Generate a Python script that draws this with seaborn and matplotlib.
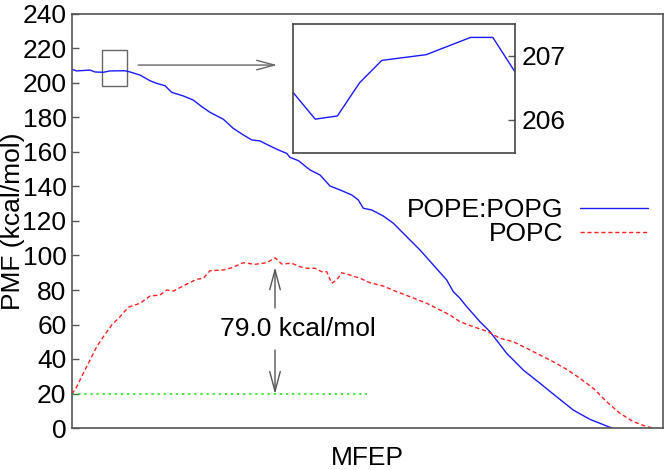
import numpy as np
import pandas as pd
import seaborn as sns
import matplotlib
matplotlib.use("Agg")
import matplotlib.pyplot as plt

# PMF along the MFEP (arbitrary path units 0-100)
mfep_pg = [0.0, 0.8, 3.05, 3.89, 5.3, 6.43, 8.97, 9.81, 11.51, 13.2, 14.33, 15.74, 16.87,
           18.83, 20.52, 21.95, 23.35, 25.6, 27.29, 28.98, 30.41, 31.81, 33.5, 34.91, 36.33,
           36.89, 38.29, 40.27, 41.96, 43.65, 45.35, 47.33, 48.44, 49.29, 50.71, 52.67, 54.37,
           56.63, 58.88, 61.14, 63.4, 64.52, 65.65, 66.79, 69.04, 70.73, 73.55, 76.36, 79.19,
           82.01, 84.82, 87.65, 91.03, 91.5]
pmf_pg = [207.9, 207.0, 207.5, 206.4, 206.2, 207.0, 207.1, 206.4, 204.6, 201.3, 199.8, 198.4,
          194.6, 192.5, 190.1, 186.3, 183.0, 179.0, 173.7, 169.9, 167.0, 166.4, 163.5, 161.2,
          159.2, 156.9, 155.0, 149.6, 146.7, 140.3, 138.0, 135.1, 132.2, 127.4, 126.4, 122.9,
          118.7, 110.9, 103.2, 94.5, 85.8, 79.0, 75.2, 70.3, 61.6, 55.8, 43.3, 33.6, 25.9,
          18.1, 10.4, 5.0, 0.4, 0.0]

mfep_pc = [0.0, 0.8, 1.91, 3.05, 4.18, 5.3, 6.72, 8.12, 9.53, 11.51, 13.2, 14.89, 16.02, 17.14,
           19.12, 21.1, 22.22, 23.35, 25.6, 27.02, 28.98, 30.96, 32.94, 34.35, 35.48, 37.17,
           38.58, 39.71, 41.12, 42.25, 43.1, 43.94, 44.79, 45.63, 47.04, 48.73, 50.42, 52.67,
           54.94, 57.19, 60.02, 62.27, 63.96, 65.65, 67.9, 69.59, 70.73, 72.42, 74.67, 76.94,
           79.19, 81.44, 83.71, 85.96, 88.21, 90.48, 92.72, 94.97, 97.24, 98.36]
pmf_pc = [19.7, 23.9, 31.7, 39.4, 47.1, 52.9, 59.7, 64.5, 70.0, 72.3, 76.5, 77.1, 80.0, 79.4,
          82.9, 86.2, 86.8, 91.2, 91.6, 92.9, 95.8, 94.9, 95.8, 98.7, 95.1, 95.5, 93.5, 92.6,
          92.6, 90.6, 90.6, 83.9, 85.8, 90.0, 88.7, 86.8, 84.2, 82.3, 79.0, 76.1, 72.3, 68.4,
          65.5, 61.6, 58.7, 56.8, 55.2, 52.0, 50.0, 46.2, 42.3, 38.4, 34.0, 28.8, 23.0, 15.2,
          8.5, 3.7, 0.8, 0.0]

# zoomed window
zoom_x = [0, 1, 2, 3, 4, 6, 8, 9, 10]
zoom_pmf = [206.43, 206.01, 206.06, 206.58, 206.93, 207.02, 207.29, 207.29, 206.75]

base_level = 19.7
base_end = 49.9
barrier = 98.7
yticks = list(range(0, 241, 20))

sns.set_theme(style="white")
plt.rcParams['font.family'] = ['Liberation Sans', 'DejaVu Sans']
plt.rcParams['text.color'] = 'black'
plt.rcParams['axes.labelcolor'] = 'black'
plt.rcParams['ytick.labelcolor'] = 'black'
fs = 19

fig = plt.figure(figsize=(6.64, 4.70), dpi=100)
ax = fig.add_axes([72/664, 42/470, 591/664, 414/470])

sns.lineplot(x=mfep_pg, y=pmf_pg, ax=ax, color='#1a1aff', lw=1.0, label='POPE:POPG')
sns.lineplot(x=mfep_pc, y=pmf_pc, ax=ax, color='#ff2020', lw=1.0,
             linestyle=(0, (3, 2)), label='POPC')
ax.plot([0, base_end], [base_level, base_level], color='#10e010', lw=1.1,
        linestyle=(0, (1.5, 2.5)))

ax.set_xlim(0, 100)
ax.set_ylim(0, 240)
ax.set_yticks(yticks)
ax.set_xticks([])
ax.tick_params(axis='y', direction='in', length=5, width=1, color='#555555',
               labelsize=fs, pad=4, left=True, labelcolor='black')
for s in ax.spines.values():
    s.set_color('#555555')
    s.set_linewidth(1.2)
ax.set_ylabel('PMF (kcal/mol)', fontsize=fs)
ax.yaxis.set_label_coords(-0.079, 0.5)
ax.set_xlabel('MFEP', fontsize=fs, labelpad=13)

leg = ax.legend(loc='upper right', bbox_to_anchor=(0.975, 0.555), frameon=False,
                markerfirst=False, fontsize=fs, handlelength=2.6, handletextpad=0.6,
                labelspacing=0.0, borderaxespad=0, borderpad=0)

# barrier annotation
xa = 34.35
ax.annotate('', xy=(xa, barrier - 5.5), xytext=(xa, 69.6),
            arrowprops=dict(arrowstyle='->,head_length=0.75,head_width=0.2',
                            color='#555555', lw=1, shrinkA=0, shrinkB=0), fontsize=fs)
ax.annotate('', xy=(xa, base_level), xytext=(xa, 45.2),
            arrowprops=dict(arrowstyle='->,head_length=0.75,head_width=0.2',
                            color='#555555', lw=1, shrinkA=0, shrinkB=0), fontsize=fs)
ax.text(38.2, 57.5, f'{barrier - base_level:.1f} kcal/mol', fontsize=fs,
        ha='center', va='center', color='black')

# zoom marker and pointer
ax.add_patch(plt.Rectangle((5.0, 198.2), 4.35, 20.9, fill=False, ec='#666666', lw=1))
ax.annotate('', xy=(34.7, 210.4), xytext=(11.2, 210.4),
            arrowprops=dict(arrowstyle='->,head_length=0.67,head_width=0.18',
                            color='#666666', lw=1, shrinkA=0, shrinkB=0), fontsize=fs)

# inset
axin = fig.add_axes([293/664, (470-153)/470, 222/664, 129/470])
sns.lineplot(x=zoom_x, y=zoom_pmf, ax=axin, color='#1a1aff', lw=1.0)
axin.set_xlim(0, 10)
axin.set_ylim(205.48, 207.5)
axin.set_xticks([])
axin.set_yticks([206, 207])
axin.yaxis.tick_right()
axin.tick_params(axis='y', direction='in', length=5, width=1, color='#555555',
                 labelsize=fs, pad=5, right=True, labelcolor='black')
axin.set_facecolor('white')
for s in axin.spines.values():
    s.set_color('#444444')
    s.set_linewidth(1.2)

fig.savefig('out.png', dpi=100)
